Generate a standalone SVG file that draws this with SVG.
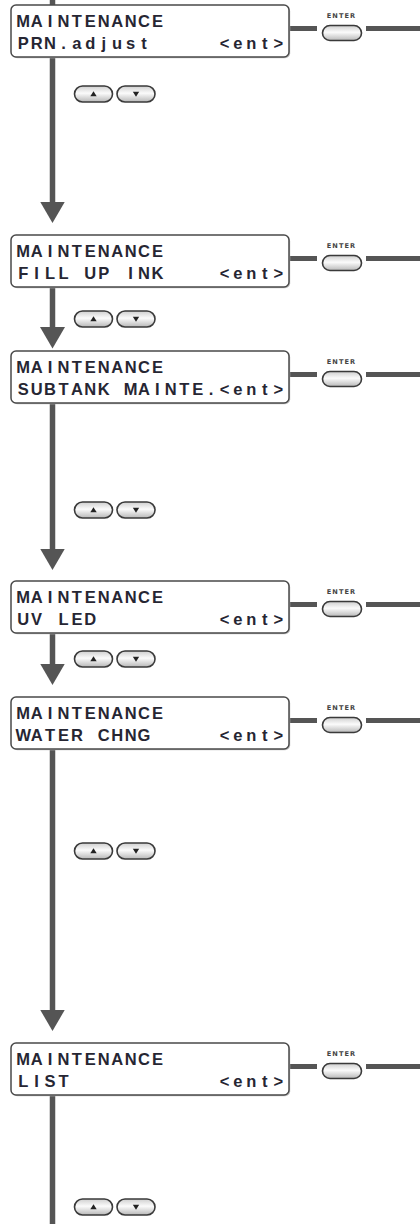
<svg xmlns="http://www.w3.org/2000/svg" width="420" height="1224" viewBox="0 0 420 1224">
<defs>
<style>
.box{fill:#fff;stroke:#4a4a4a;stroke-width:1.5}
.shadow{fill:#c4c4c4}
.lcd{font-family:"Liberation Sans",Arial,sans-serif;font-size:16.5px;font-weight:bold;fill:#262633;text-anchor:middle}
.conn{stroke:#555;stroke-width:5.5;fill:none}
.hconn{stroke:#555;stroke-width:5;fill:none}
.btn{fill:url(#btnGrad);stroke:#3a3a3a;stroke-width:1.6}
.elabel{font-family:"DejaVu Sans",sans-serif;font-size:6.6px;font-weight:bold;fill:#444;letter-spacing:1.1px;text-anchor:middle}
.tri{fill:#222}
</style>
<linearGradient id="btnGrad" x1="0" y1="0" x2="0" y2="1">
<stop offset="0" stop-color="#cfcfcf"/>
<stop offset="0.45" stop-color="#fbfbfb"/>
<stop offset="1" stop-color="#b8b8b8"/>
</linearGradient>
<marker id="arrow" viewBox="0 0 21.5 25" refX="2" refY="12.5" markerWidth="21.5" markerHeight="25" markerUnits="userSpaceOnUse" orient="auto">
<path d="M0,0 L21.5,12.5 L0,25 Z" fill="#555"/>
</marker>
</defs>
<rect width="420" height="1224" fill="#fff"/>

<g id="connectors">
<path class="conn" d="M52.5,0 V10"/>
<path class="conn" d="M52.5,56 V203.5" marker-end="url(#arrow)"/>
<path class="conn" d="M52.5,286 V329" marker-end="url(#arrow)"/>
<path class="conn" d="M52.5,402 V550.5" marker-end="url(#arrow)"/>
<path class="conn" d="M52.5,632 V665.5" marker-end="url(#arrow)"/>
<path class="conn" d="M52.5,748 V1011.5" marker-end="url(#arrow)"/>
<path class="conn" d="M52.5,1094 V1224"/>
<path class="hconn" d="M289,28.5 H317 M366,28.5 H420"/>
<path class="hconn" d="M289,258.5 H317 M366,258.5 H420"/>
<path class="hconn" d="M289,374.5 H317 M366,374.5 H420"/>
<path class="hconn" d="M289,604.5 H317 M366,604.5 H420"/>
<path class="hconn" d="M289,720.5 H317 M366,720.5 H420"/>
<path class="hconn" d="M289,1066.5 H317 M366,1066.5 H420"/>
</g>

<g id="node-prn-adjust" transform="translate(0,5)">
<rect class="shadow" x="12.2" y="1.2" width="278" height="52" rx="5"/>
<rect class="box" x="11" y="0" width="278" height="52" rx="5"/>
<text class="lcd" x="23.2 36.6 50 63.5 76.9 90.3 103.7 117.1 130.6 144 157.4" y="22.3">MAINTENANCE</text>
<text class="lcd" x="23.2 36.6 50 63.5 76.9 90.3 103.7 117.1 130.6 144" y="44.3">PRN.adjust<tspan x="211.1 224.5 237.9 251.3 264.8 278.2"> &lt;ent&gt;</tspan></text>
<text class="elabel" x="341.5" y="13">ENTER</text>
<rect class="btn" x="322.5" y="20.5" width="39" height="15" rx="7.5"/>
</g>

<g id="node-fill-up-ink" transform="translate(0,235)">
<rect class="shadow" x="12.2" y="1.2" width="278" height="52" rx="5"/>
<rect class="box" x="11" y="0" width="278" height="52" rx="5"/>
<text class="lcd" x="23.2 36.6 50 63.5 76.9 90.3 103.7 117.1 130.6 144 157.4" y="22.3">MAINTENANCE</text>
<text class="lcd" x="23.2 36.6 50 63.5 76.9 90.3 103.7 117.1 130.6 144 157.4" y="44.3">FILL UP INK<tspan x="211.1 224.5 237.9 251.3 264.8 278.2"> &lt;ent&gt;</tspan></text>
<text class="elabel" x="341.5" y="13">ENTER</text>
<rect class="btn" x="322.5" y="20.5" width="39" height="15" rx="7.5"/>
</g>

<g id="node-subtank-mainte" transform="translate(0,351)">
<rect class="shadow" x="12.2" y="1.2" width="278" height="52" rx="5"/>
<rect class="box" x="11" y="0" width="278" height="52" rx="5"/>
<text class="lcd" x="23.2 36.6 50 63.5 76.9 90.3 103.7 117.1 130.6 144 157.4" y="22.3">MAINTENANCE</text>
<text class="lcd" x="23.2 36.6 50 63.5 76.9 90.3 103.7 117.1 130.6 144 157.4 170.8 184.2 197.7 211.1 224.5 237.9 251.3 264.8 278.2" y="44.3">SUBTANK MAINTE.&lt;ent&gt;</text>
<text class="elabel" x="341.5" y="13">ENTER</text>
<rect class="btn" x="322.5" y="20.5" width="39" height="15" rx="7.5"/>
</g>

<g id="node-uv-led" transform="translate(0,581)">
<rect class="shadow" x="12.2" y="1.2" width="278" height="52" rx="5"/>
<rect class="box" x="11" y="0" width="278" height="52" rx="5"/>
<text class="lcd" x="23.2 36.6 50 63.5 76.9 90.3 103.7 117.1 130.6 144 157.4" y="22.3">MAINTENANCE</text>
<text class="lcd" x="23.2 36.6 50 63.5 76.9 90.3" y="44.3">UV LED<tspan x="211.1 224.5 237.9 251.3 264.8 278.2"> &lt;ent&gt;</tspan></text>
<text class="elabel" x="341.5" y="13">ENTER</text>
<rect class="btn" x="322.5" y="20.5" width="39" height="15" rx="7.5"/>
</g>

<g id="node-water-chng" transform="translate(0,697)">
<rect class="shadow" x="12.2" y="1.2" width="278" height="52" rx="5"/>
<rect class="box" x="11" y="0" width="278" height="52" rx="5"/>
<text class="lcd" x="23.2 36.6 50 63.5 76.9 90.3 103.7 117.1 130.6 144 157.4" y="22.3">MAINTENANCE</text>
<text class="lcd" x="23.2 36.6 50 63.5 76.9 90.3 103.7 117.1 130.6 144" y="44.3">WATER CHNG<tspan x="211.1 224.5 237.9 251.3 264.8 278.2"> &lt;ent&gt;</tspan></text>
<text class="elabel" x="341.5" y="13">ENTER</text>
<rect class="btn" x="322.5" y="20.5" width="39" height="15" rx="7.5"/>
</g>

<g id="node-list" transform="translate(0,1043)">
<rect class="shadow" x="12.2" y="1.2" width="278" height="52" rx="5"/>
<rect class="box" x="11" y="0" width="278" height="52" rx="5"/>
<text class="lcd" x="23.2 36.6 50 63.5 76.9 90.3 103.7 117.1 130.6 144 157.4" y="22.3">MAINTENANCE</text>
<text class="lcd" x="23.2 36.6 50 63.5" y="44.3">LIST<tspan x="211.1 224.5 237.9 251.3 264.8 278.2"> &lt;ent&gt;</tspan></text>
<text class="elabel" x="341.5" y="13">ENTER</text>
<rect class="btn" x="322.5" y="20.5" width="39" height="15" rx="7.5"/>
</g>

<g id="updown-1" transform="translate(0,94)">
<rect class="btn" x="74.5" y="-8" width="38" height="16" rx="8"/>
<rect class="btn" x="117" y="-8" width="38" height="16" rx="8"/>
<path class="tri" d="M90.3,2.3 L96.7,2.3 L93.5,-2.7 Z"/>
<path class="tri" d="M132.8,-2.3 L139.2,-2.3 L136,2.7 Z"/>
</g>
<g id="updown-2" transform="translate(0,319)">
<rect class="btn" x="74.5" y="-8" width="38" height="16" rx="8"/>
<rect class="btn" x="117" y="-8" width="38" height="16" rx="8"/>
<path class="tri" d="M90.3,2.3 L96.7,2.3 L93.5,-2.7 Z"/>
<path class="tri" d="M132.8,-2.3 L139.2,-2.3 L136,2.7 Z"/>
</g>
<g id="updown-3" transform="translate(0,510)">
<rect class="btn" x="74.5" y="-8" width="38" height="16" rx="8"/>
<rect class="btn" x="117" y="-8" width="38" height="16" rx="8"/>
<path class="tri" d="M90.3,2.3 L96.7,2.3 L93.5,-2.7 Z"/>
<path class="tri" d="M132.8,-2.3 L139.2,-2.3 L136,2.7 Z"/>
</g>
<g id="updown-4" transform="translate(0,659)">
<rect class="btn" x="74.5" y="-8" width="38" height="16" rx="8"/>
<rect class="btn" x="117" y="-8" width="38" height="16" rx="8"/>
<path class="tri" d="M90.3,2.3 L96.7,2.3 L93.5,-2.7 Z"/>
<path class="tri" d="M132.8,-2.3 L139.2,-2.3 L136,2.7 Z"/>
</g>
<g id="updown-5" transform="translate(0,851)">
<rect class="btn" x="74.5" y="-8" width="38" height="16" rx="8"/>
<rect class="btn" x="117" y="-8" width="38" height="16" rx="8"/>
<path class="tri" d="M90.3,2.3 L96.7,2.3 L93.5,-2.7 Z"/>
<path class="tri" d="M132.8,-2.3 L139.2,-2.3 L136,2.7 Z"/>
</g>
<g id="updown-6" transform="translate(0,1207)">
<rect class="btn" x="74.5" y="-8" width="38" height="16" rx="8"/>
<rect class="btn" x="117" y="-8" width="38" height="16" rx="8"/>
<path class="tri" d="M90.3,2.3 L96.7,2.3 L93.5,-2.7 Z"/>
<path class="tri" d="M132.8,-2.3 L139.2,-2.3 L136,2.7 Z"/>
</g>
</svg>
